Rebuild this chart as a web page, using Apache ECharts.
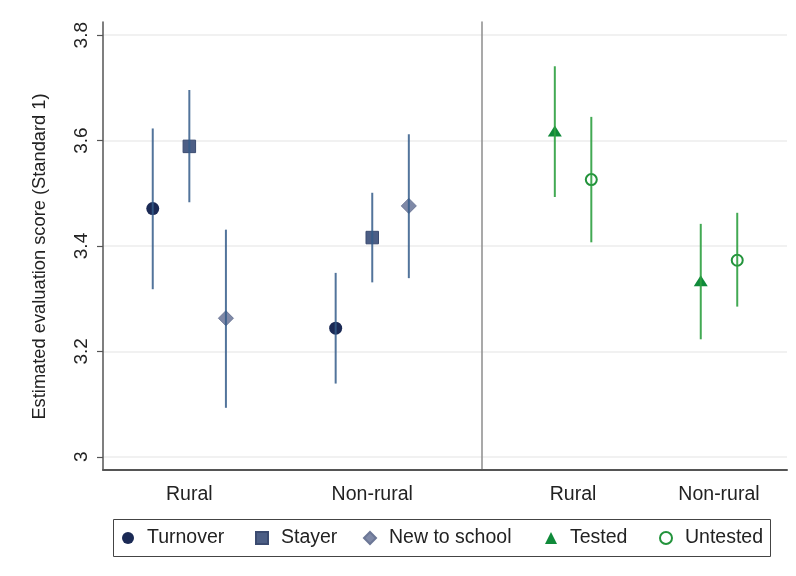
<!DOCTYPE html>
<html><head><meta charset="utf-8">
<script src="https://cdn.jsdelivr.net/npm/echarts@6/dist/echarts.min.js"></script>
<style>html,body{margin:0;padding:0;background:#fff}#c{width:796px;height:576px}</style>
</head><body><div id="c"></div>
<script>
// ---- data ----
const categories = ['Rural', 'Non-rural'];
const yTicks = [3, 3.2, 3.4, 3.6, 3.8];
const yAxisTitle = 'Estimated evaluation score (Standard 1)';
const legendNames = ['Turnover', 'Stayer', 'New to school', 'Tested', 'Untested'];

const turnoverEst = [3.471, 3.244];
const turnoverLo  = [3.318, 3.139];
const turnoverHi  = [3.623, 3.349];

const stayerEst = [3.589, 3.416];
const stayerLo  = [3.483, 3.331];
const stayerHi  = [3.696, 3.501];

const newEst = [3.263, 3.476];
const newLo  = [3.093, 3.339];
const newHi  = [3.431, 3.612];

const testedEst = [3.618, 3.334];
const testedLo  = [3.493, 3.223];
const testedHi  = [3.741, 3.442];

const untestedEst = [3.526, 3.373];
const untestedLo  = [3.407, 3.285];
const untestedHi  = [3.645, 3.463];

// ---- layout helpers ----
const leftOffsets = [-0.2, 0, 0.2];
const rightOffsets = [-0.125, 0.125];
const legendLefts = [122, 255, 363, 545, 659];
function pts(est, off) { return categories.map((c, i) => [i + 1 + off, est[i]]); }
function cis(lo, hi, off) { return categories.map((c, i) => [i + 1 + off, lo[i], hi[i]]); }

const blueLine = 'rgba(52,92,138,0.85)';
const greenLine = 'rgba(46,160,64,0.9)';
function ciRender(color) {
  return function (params, api) {
    const x = api.value(0);
    const p1 = api.coord([x, api.value(1)]);
    const p2 = api.coord([x, api.value(2)]);
    return { type: 'line', shape: { x1: p1[0], y1: p1[1], x2: p2[0], y2: p2[1] },
             style: { stroke: color, lineWidth: 2 } };
  };
}
function ciSeries(name, lo, hi, off, gi, color) {
  return { type: 'custom', name: name, xAxisIndex: gi, yAxisIndex: gi, z: 5, clip: false,
           renderItem: ciRender(color), data: cis(lo, hi, off), silent: true };
}

const font = 'Liberation Sans, Arial, Helvetica, sans-serif';
const txt = '#222';

function yAxisCfg(gi, showLabels) {
  return {
    type: 'value', gridIndex: gi, min: 2.975, max: 3.825,
    axisLine: { show: true, lineStyle: { color: showLabels ? '#555' : '#8c8c8c', width: 1.5 } },
    axisTick: { show: showLabels, customValues: yTicks, length: 6, lineStyle: { color: '#555', width: 1.2 } },
    axisLabel: { show: showLabels, customValues: yTicks, rotate: 90, margin: 12,
                 fontSize: 19, color: txt, fontFamily: font },
    splitLine: { show: true, customValues: yTicks, lineStyle: { color: '#ececec', width: 1.5 } },
    name: showLabels ? yAxisTitle : '', nameLocation: 'middle', nameGap: 54, nameRotate: 90,
    nameTextStyle: { fontSize: 18.3, color: txt, fontFamily: font, padding: [0, 21, 0, 0] }
  };
}
function xAxisCfg(gi, min, max) {
  return {
    type: 'value', gridIndex: gi, min: min, max: max,
    axisLine: { show: true, onZero: false, lineStyle: { color: '#555', width: 2 } },
    axisTick: { show: false },
    splitLine: { show: false },
    axisLabel: { customValues: [1, 2], margin: 15, fontSize: 19.5, color: txt, fontFamily: font,
                 formatter: v => categories[Math.round(v) - 1] }
  };
}

const option = {
  animation: false,
  backgroundColor: '#fff',
  grid: [
    { left: 103, top: 22, width: 379, height: 448 },
    { left: 482, top: 22, width: 305, height: 448 }
  ],
  xAxis: [xAxisCfg(0, 0.528, 2.6), xAxisCfg(1, 0.376, 2.466)],
  yAxis: [yAxisCfg(0, true), yAxisCfg(1, false)],
  legend: legendNames.map((n, i) => ({
    left: legendLefts[i], top: 528, padding: 0,
    data: [n], itemWidth: 12, itemHeight: 12,
    textStyle: { fontSize: 19.5, color: txt, fontFamily: font, padding: [0, 0, 0, 8] }
  })),
  graphic: [{
    type: 'rect', silent: true,
    shape: { x: 113.5, y: 519.5, width: 657, height: 37 },
    style: { fill: 'none', stroke: '#444', lineWidth: 1 }
  }],
  series: [
    { type: 'scatter', name: 'Turnover', xAxisIndex: 0, yAxisIndex: 0, z: 3,
      symbol: 'circle', symbolSize: 13, itemStyle: { color: '#1b2a55', opacity: 1 },
      data: pts(turnoverEst, leftOffsets[0]) },
    { type: 'scatter', name: 'Stayer', xAxisIndex: 0, yAxisIndex: 0, z: 3,
      symbol: 'rect', symbolSize: 12.5, itemStyle: { color: '#4c5e85', borderColor: '#3b4b70', borderWidth: 1, opacity: 1 },
      data: pts(stayerEst, leftOffsets[1]) },
    { type: 'scatter', name: 'New to school', xAxisIndex: 0, yAxisIndex: 0, z: 3,
      symbol: 'diamond', symbolSize: 15, itemStyle: { color: '#7f89a7', borderColor: '#6c7796', borderWidth: 1, opacity: 1 },
      data: pts(newEst, leftOffsets[2]) },
    { type: 'scatter', name: 'Tested', xAxisIndex: 1, yAxisIndex: 1, z: 3,
      symbol: 'triangle', symbolSize: [14, 11], itemStyle: { color: '#108a3a', opacity: 1 },
      data: pts(testedEst, rightOffsets[0]) },
    { type: 'scatter', name: 'Untested', xAxisIndex: 1, yAxisIndex: 1, z: 3,
      symbol: 'circle', symbolSize: 11, itemStyle: { color: 'rgba(255,255,255,0)', borderColor: '#22933b', borderWidth: 2, opacity: 1 },
      data: pts(untestedEst, rightOffsets[1]) },
    ciSeries('Turnover CI', turnoverLo, turnoverHi, leftOffsets[0], 0, blueLine),
    ciSeries('Stayer CI', stayerLo, stayerHi, leftOffsets[1], 0, blueLine),
    ciSeries('New CI', newLo, newHi, leftOffsets[2], 0, blueLine),
    ciSeries('Tested CI', testedLo, testedHi, rightOffsets[0], 1, greenLine),
    ciSeries('Untested CI', untestedLo, untestedHi, rightOffsets[1], 1, greenLine)
  ]
};
const chart = echarts.init(document.getElementById('c'), null, { renderer: 'canvas' });
chart.setOption(option);
</script></body></html>
